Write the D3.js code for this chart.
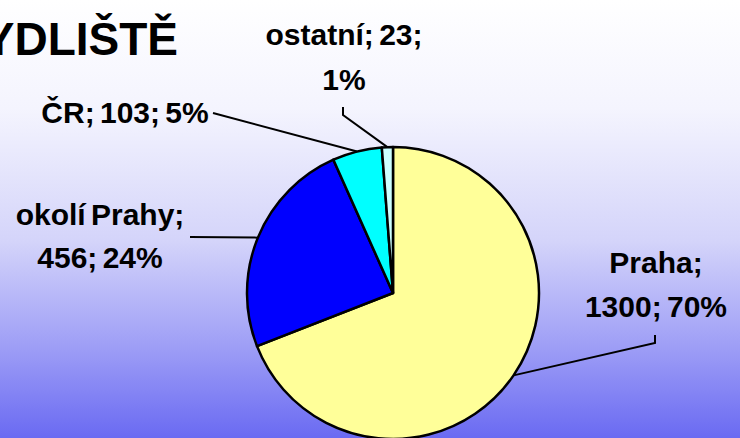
<!DOCTYPE html>
<html>
<head>
<meta charset="utf-8">
<script src="https://cdn.jsdelivr.net/npm/d3@7"></script>
<style>
  html, body { margin: 0; padding: 0; overflow: hidden; }
  svg { display: block; }
</style>
</head>
<body>
<svg id="chart"></svg>
<script>
// chart data
const title = "BYDLIŠTĚ";
const categories = ["Praha", "okolí Prahy", "ČR", "ostatní"];
const values = [1300, 456, 103, 23];
const percentLabels = ["70%", "24%", "5%", "1%"];

const W = 740, H = 438;
const colors = ["#ffff99", "#0000ff", "#00ffff", "#ccffff"];

const svg = d3.select("#chart").attr("width", W).attr("height", H);

// background gradient
const defs = svg.append("defs");
const grad = defs.append("linearGradient")
    .attr("id", "bg").attr("x1", 0).attr("y1", 0).attr("x2", 0).attr("y2", 1);
grad.append("stop").attr("offset", "0%").attr("stop-color", "#ffffff");
grad.append("stop").attr("offset", "25%").attr("stop-color", "#f4f4fe");
grad.append("stop").attr("offset", "55%").attr("stop-color", "#d4d4fa");
grad.append("stop").attr("offset", "80%").attr("stop-color", "#9c9cf6");
grad.append("stop").attr("offset", "100%").attr("stop-color", "#6a6af2");
svg.append("rect").attr("width", W).attr("height", H).attr("fill", "url(#bg)");

// title, cut off at left edge like the original slide
svg.append("text")
    .attr("x", 178).attr("y", 55)
    .attr("text-anchor", "end")
    .attr("font-family", "Liberation Sans, Arial, sans-serif")
    .attr("font-weight", "bold")
    .attr("font-size", 46)
    .text(title);

const cx = 393, cy = 293, r = 146;

const pie = d3.pie().sort(null).value(d => d);
const arcs = pie(values);
const arc = d3.arc().innerRadius(0).outerRadius(r);

const g = svg.append("g").attr("transform", `translate(${cx},${cy})`);

g.selectAll("path")
    .data(arcs)
    .enter()
    .append("path")
    .attr("d", arc)
    .attr("fill", (d, i) => colors[i])
    .attr("stroke", "#000")
    .attr("stroke-width", 2.5)
    .attr("stroke-linejoin", "round");

// label layout: text centre, baselines, and where the leader line ends
const labelLayout = [
    { x: 656, lines: [273, 317], end: [[655, 343], [655, 335]] },
    { x: 100, lines: [225, 268], end: [[190, 237]] },
    { x: 125, lines: [123], end: [[213, 113]], single: true },
    { x: 344, lines: [45, 90], end: [[343, 115], [343, 107]] }
];

arcs.forEach((d, i) => {
    const lay = labelLayout[i];
    const mid = (d.startAngle + d.endAngle) / 2;
    const px = cx + Math.sin(mid) * r;
    const py = cy - Math.cos(mid) * r;
    const pts = [[px, py]].concat(lay.end);

    svg.append("path")
        .attr("d", d3.line()(pts))
        .attr("fill", "none")
        .attr("stroke", "#000")
        .attr("stroke-width", 2);

    let texts;
    if (lay.single) {
        texts = [`${categories[i]}; ${values[i]}; ${percentLabels[i]}`];
    } else if (i === 3) {
        texts = [`${categories[i]}; ${values[i]};`, percentLabels[i]];
    } else {
        texts = [`${categories[i]};`, `${values[i]}; ${percentLabels[i]}`];
    }

    texts.forEach((t, j) => {
        svg.append("text")
            .attr("x", lay.x)
            .attr("y", lay.lines[j])
            .attr("text-anchor", "middle")
            .attr("font-family", "Liberation Sans, Arial, sans-serif")
            .attr("font-weight", "bold")
            .attr("font-size", 30)
            .attr("word-spacing", -3)
            .attr("fill", "#000")
            .text(t);
    });
});
</script>
</body>
</html>
